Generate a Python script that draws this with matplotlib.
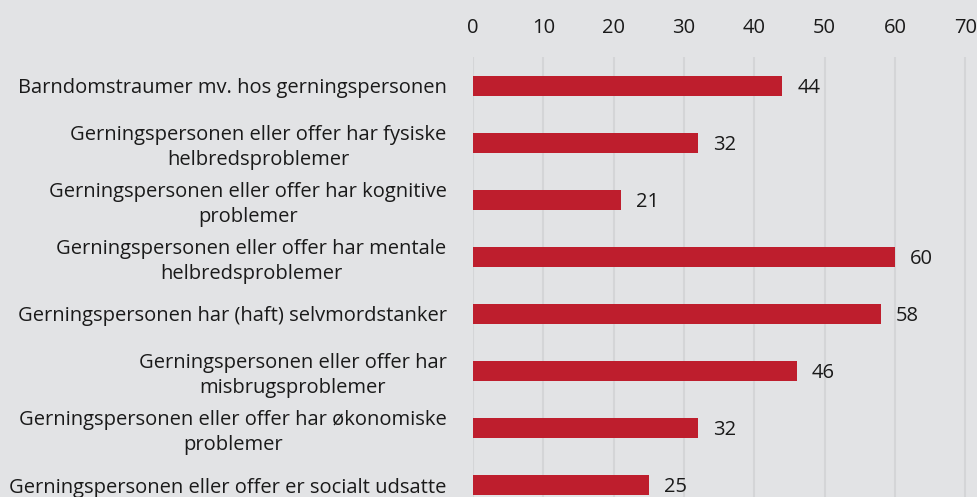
import matplotlib.pyplot as plt

categories = [
    "Barndomstraumer mv. hos gerningspersonen",
    "Gerningspersonen eller offer har fysiske\nhelbredsproblemer",
    "Gerningspersonen eller offer har kognitive\nproblemer",
    "Gerningspersonen eller offer har mentale\nhelbredsproblemer",
    "Gerningspersonen har (haft) selvmordstanker",
    "Gerningspersonen eller offer har\nmisbrugsproblemer",
    "Gerningspersonen eller offer har økonomiske\nproblemer",
    "Gerningspersonen eller offer er socialt udsatte",
]
values = [44, 32, 21, 60, 58, 46, 32, 25]
xticks = [0, 10, 20, 30, 40, 50, 60, 70]

bg = "#e2e3e5"
red = "#be1e2d"

plt.rcParams["font.family"] = ["Open Sans", "DejaVu Sans"]

fig = plt.figure(figsize=(9.78, 4.97), dpi=100, facecolor=bg)
ax = fig.add_axes([473 / 978, 0, (978 - 473) / 978, (497 - 57) / 497])
ax.set_facecolor(bg)

y = list(range(len(categories)))
ax.barh(y, values, height=0.35, color=red, zorder=3)

for yi, v in zip(y, values):
    ax.annotate(str(v), (v, yi), xytext=(11, -1.5), textcoords="offset points",
                ha="left", va="center", fontsize=14.5, color="#1a1a1a")

ax.set_xlim(0, 71.8)
ax.set_ylim(7.21, -0.5)
ax.set_xticks(xticks)
ax.xaxis.tick_top()
ax.tick_params(axis="x", length=0, pad=14, labelsize=14.5, labelcolor="#1a1a1a")
ax.set_yticks(y)
ax.set_yticklabels(categories, fontsize=14.5, color="#1a1a1a",
                   multialignment="center", linespacing=1.3)
ax.tick_params(axis="y", length=0, pad=19)
ax.grid(axis="x", color="#d4d5d7", linewidth=1.5, zorder=0)
for s in ax.spines.values():
    s.set_visible(False)

fig.savefig("out.png", dpi=100, facecolor=bg)
